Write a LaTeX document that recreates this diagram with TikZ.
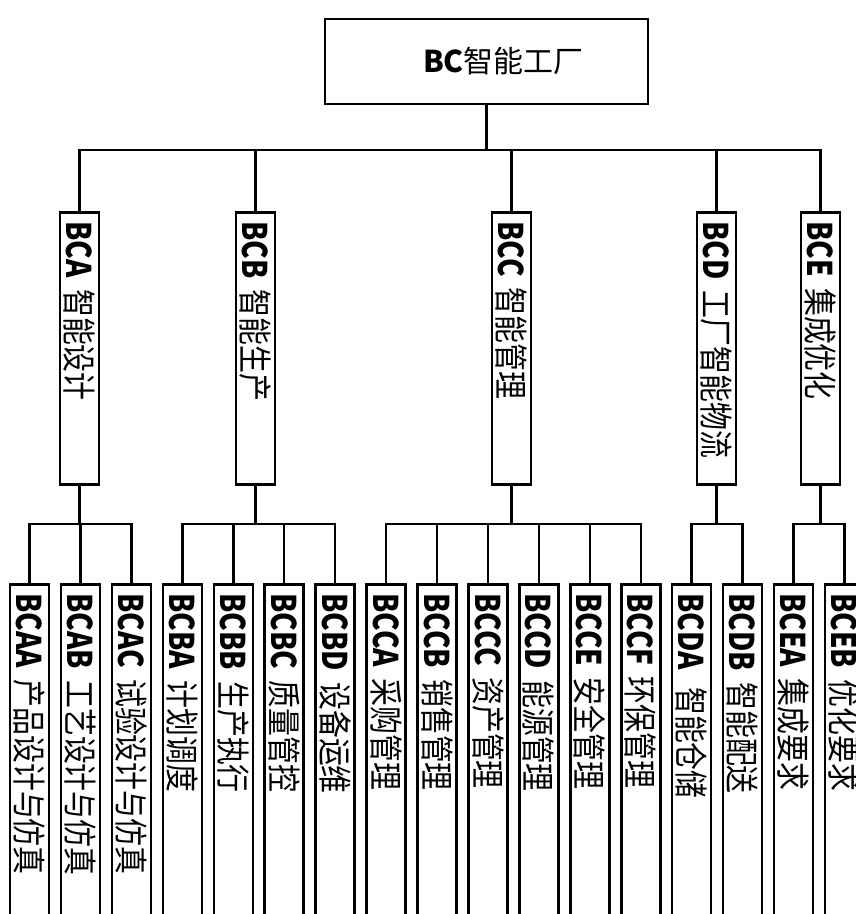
\documentclass[tikz,border=0pt]{standalone}
\usepackage{fontspec}
\setmainfont{Noto Sans CJK SC}
\newfontfamily\cjkcond[FakeStretch=0.82]{Noto Sans CJK SC}
\usetikzlibrary{positioning,calc}
\tikzset{
  basebox/.style={rectangle,draw=black,line width=2.5pt,inner sep=0pt},
  rootnode/.style={basebox,minimum width=323pt,minimum height=85pt,font=\fontsize{30}{34}\selectfont},
  groupnode/.style={basebox,rotate=-90,anchor=west,minimum height=39pt,text width=254pt,inner xsep=9pt,align=left,font=\cjkcond\fontsize{34}{36}\selectfont},
  leafnode/.style={groupnode,text width=380pt},
  link/.style={line width=2.5pt,line cap=rect}
}
\newcommand{\codetag}[1]{\textbf{#1}}

\begin{document}
\begin{tikzpicture}[x=1pt,y=-1pt]
  \useasboundingbox (0,0) rectangle (856,914);
  \clip (0,0) rectangle (856,914);

  \node[rootnode] (root) at (486.5,61.5) {\hspace{34pt}\codetag{BC}智能工厂};

  \node[groupnode] (bca) at (79.5,211) {\codetag{BCA} 智能设计};
  \node[groupnode] (bcb) at (255.5,211) {\codetag{BCB} 智能生产};
  \node[groupnode] (bcc) at (511.5,211) {\codetag{BCC} 智能管理};
  \node[groupnode] (bcd) at (716.5,211) {\codetag{BCD} 工厂智能物流};
  \node[groupnode] (bce) at (820.5,211) {\codetag{BCE} 集成优化};

  \coordinate (mainbus) at (0,150);
  \coordinate (subbus) at (0,524);

  % top level bus
  \draw[link] (root.south) -- (root.south |- mainbus);
  \draw[link] (bca.west |- mainbus) -- (bce.west |- mainbus);
  \foreach \g in {bca,bcb,bcc,bcd,bce}
    \draw[link] (\g.west) -- (\g.west |- mainbus);

  % leaves
  \foreach \i/\lab/\txt in {0/BCAA/产品设计与仿真,1/BCAB/工艺设计与仿真,2/BCAC/试验设计与仿真,
      3/BCBA/计划调度,4/BCBB/生产执行,5/BCBC/质量管控,6/BCBD/设备运维,
      7/BCCA/采购管理,8/BCCB/销售管理,9/BCCC/资产管理,10/BCCD/能源管理,11/BCCE/安全管理,12/BCCF/环保管理,
      13/BCDA/\hspace{6pt}智能仓储,14/BCDB/智能配送,15/BCEA/集成要求,16/BCEB/优化要求}{
    \node[leafnode] (leaf\i) at ({29.5+50.94*\i},583) {\codetag{\lab} \txt};
    \draw[link] (leaf\i.west) -- (leaf\i.west |- subbus);
  }

  % group buses
  \foreach \g/\a/\b in {bca/0/2,bcb/3/6,bcc/7/12,bcd/13/14,bce/15/16}{
    \draw[link] (\g.east) -- (\g.east |- subbus);
    \draw[link] (leaf\a.west |- subbus) -- (leaf\b.west |- subbus);
  }
\end{tikzpicture}
\end{document}
